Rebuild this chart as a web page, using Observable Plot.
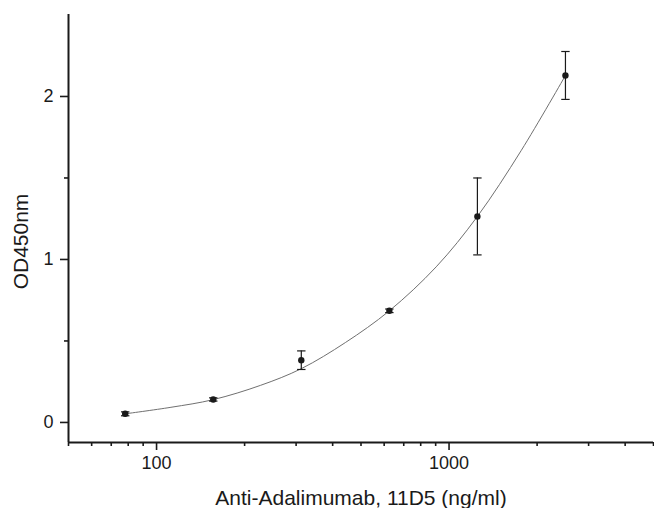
<!DOCTYPE html>
<html>
<head>
<meta charset="utf-8">
<script src="https://cdn.jsdelivr.net/npm/d3@7"></script>
<script src="https://cdn.jsdelivr.net/npm/@observablehq/plot@0.6"></script>
<style>
  html, body { margin: 0; padding: 0; background: #fff; }
  #chart svg { display: block; }
</style>
</head>
<body>
<div id="chart"></div>
<script>
// Measured points (concentration ng/ml, OD450 mean, error)
const conc = [78.125, 156.25, 312.5, 625, 1250, 2500];
const od = [0.053, 0.141, 0.382, 0.685, 1.264, 2.129];
const err = [0.012, 0.010, 0.057, 0.011, 0.236, 0.147];

// Fitted curve
const fitConc = [78.125, 112, 156.25, 227, 312.5, 442, 625, 904, 1250, 1767, 2500];
const fitOD = [0.053, 0.093, 0.140, 0.228, 0.330, 0.490, 0.685, 0.955, 1.264, 1.670, 2.129];

// Axis ticks
const xMajor = [100, 1000];
const xMinor = [50, 60, 70, 80, 90, 200, 300, 400, 500, 600, 700, 800, 900, 2000, 3000, 4000, 5000];
const yMajor = [0, 1, 2];
const yMinor = [0.5, 1.5];
const xDomain = [50, 5000];
const yDomain = [-0.123, 2.503];
const xLabel = "Anti-Adalimumab, 11D5 (ng/ml)";
const yLabel = "OD450nm";

const points = conc.map((c, i) => ({x: c, y: od[i], lo: od[i] - err[i], hi: od[i] + err[i]}));
const fit = fitConc.map((c, i) => ({x: c, y: fitOD[i]}));

const capSymbol = {
  draw(context, size) {
    const w = Math.sqrt(size / Math.PI);
    context.moveTo(-w, 0);
    context.lineTo(w, 0);
  }
};

const ink = "#1a1a1a";
const chart = Plot.plot({
  width: 654,
  height: 508,
  marginLeft: 68,
  marginRight: 1,
  marginTop: 14,
  marginBottom: 66,
  style: {fontFamily: "'Liberation Sans', Arial, sans-serif", color: ink, background: "#fff"},
  x: {type: "log", domain: xDomain},
  y: {domain: yDomain},
  marks: [
    Plot.line(fit, {x: "x", y: "y", curve: "catmull-rom", stroke: "#707070", strokeWidth: 1}),
    Plot.ruleX(points, {x: "x", y1: "lo", y2: "hi", stroke: ink, strokeWidth: 1.2}),
    Plot.dot(points, {x: "x", y: "lo", symbol: capSymbol, r: 4.2, stroke: ink, strokeWidth: 1.2, fill: "none"}),
    Plot.dot(points, {x: "x", y: "hi", symbol: capSymbol, r: 4.2, stroke: ink, strokeWidth: 1.2, fill: "none"}),
    Plot.dot(points, {x: "x", y: "y", r: 3.2, fill: ink, stroke: "none"}),
    Plot.axisX(xMajor, {anchor: "bottom", tickSize: 8, tickPadding: 6, strokeWidth: 1.6, fontSize: 18, label: null, tickFormat: d => String(d)}),
    Plot.axisX(xMinor, {anchor: "bottom", tickSize: 4, strokeWidth: 1.6, text: null, label: null}),
    Plot.axisY(yMajor, {anchor: "left", tickSize: 8, tickPadding: 7, strokeWidth: 1.6, fontSize: 18, label: null, tickFormat: d => String(d)}),
    Plot.axisY(yMinor, {anchor: "left", tickSize: 4, strokeWidth: 1.6, text: null, label: null}),
    Plot.ruleY([yDomain[0]], {stroke: ink, strokeWidth: 2}),
    Plot.ruleX([xDomain[0]], {stroke: ink, strokeWidth: 2}),
    Plot.text([xLabel], {frameAnchor: "bottom", dy: 55.5, lineAnchor: "middle", textAnchor: "middle", fontSize: 21, fill: ink}),
    Plot.text([yLabel], {frameAnchor: "left", dx: -47, dy: 13, rotate: -90, lineAnchor: "middle", textAnchor: "middle", fontSize: 21, fill: ink})
  ]
});
document.getElementById("chart").appendChild(chart);
</script>
</body>
</html>
